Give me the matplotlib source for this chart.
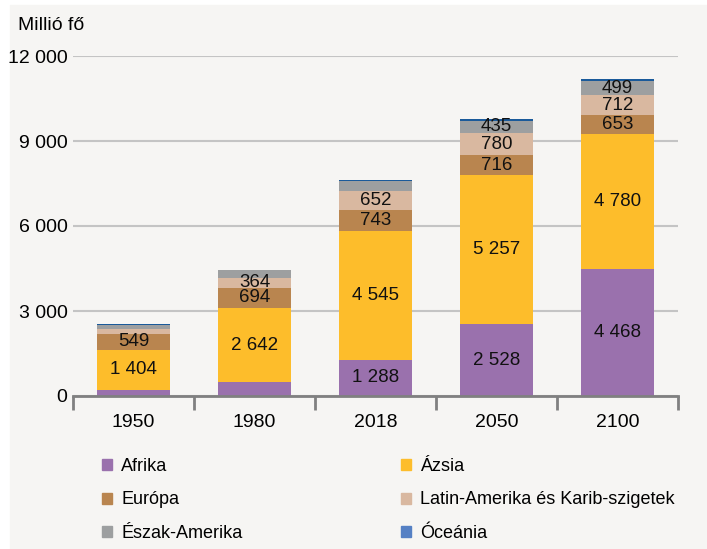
import matplotlib.pyplot as plt
from matplotlib.patches import Rectangle, Patch

years = ["1950", "1980", "2018", "2050", "2100"]
regions = ["Afrika", "Ázsia", "Európa", "Latin-Amerika és Karib-szigetek",
           "Észak-Amerika", "Óceánia"]
afrika = [228, 477, 1288, 2528, 4468]
azsia = [1404, 2642, 4545, 5257, 4780]
europa = [549, 694, 743, 716, 653]
latin = [169, 364, 652, 780, 712]
eszak = [173, 255, 364, 435, 499]
oceania = [13, 23, 41, 57, 75]
series = [afrika, azsia, europa, latin, eszak, oceania]
# which segments carry a value label
show = [
    [False, False, True, True, True],
    [True, True, True, True, True],
    [True, True, True, True, True],
    [False, True, True, True, True],
    [False, False, False, True, True],
    [False, False, False, False, False],
]
colors = ["#9A71AD", "#FDBD2B", "#B9854F", "#D9B8A0", "#9D9FA0", "#1A5A9A"]
legend_colors = ["#9A71AD", "#FDBD2B", "#B9854F", "#D9B8A0", "#9D9FA0", "#5580C4"]

plt.rcParams["font.family"] = ["Liberation Sans", "DejaVu Sans"]

fig = plt.figure(figsize=(7.07, 5.49), dpi=100, facecolor="white")
fig.patches.append(Rectangle((10 / 707, 0), 1, 1 - 5 / 549, transform=fig.transFigure,
                             color="#F6F5F3", zorder=-10))
ax = fig.add_axes([73 / 707, 153 / 549, 605 / 707, 340 / 549])
ax.set_facecolor("none")

x = range(len(years))
bottom = [0] * len(years)
for vals, col, lab in zip(series, colors, show):
    ax.bar(x, vals, 0.61, bottom=bottom, color=col, zorder=3)
    for i, v in enumerate(vals):
        if lab[i]:
            txt = f"{v:,}".replace(",", " ")
            ax.text(i, bottom[i] + v / 2, txt, ha="center", va="center",
                    fontsize=13.5, color="#111111", zorder=4)
    bottom = [b + v for b, v in zip(bottom, vals)]

ax.set_xlim(-0.5, 4.5)
ax.set_ylim(0, 12000)
ax.set_yticks([0, 3000, 6000, 9000, 12000])
ax.set_yticklabels(["0", "3 000", "6 000", "9 000", "12 000"])
ax.set_xticks(list(x))
ax.set_xticklabels(years)
ax.set_xticks([-0.5, 0.5, 1.5, 2.5, 3.5, 4.5], minor=True)
ax.tick_params(axis="x", which="major", length=0, pad=13, labelsize=14)
ax.tick_params(axis="x", which="minor", length=10, width=2, color="#808080")
ax.tick_params(axis="y", length=0, pad=4, labelsize=14)
ax.grid(axis="y", color="#C4C4C4", linewidth=1.5, zorder=0)
for s in ["left", "right", "top"]:
    ax.spines[s].set_visible(False)
ax.spines["bottom"].set_color("#808080")
ax.spines["bottom"].set_linewidth(2)
ax.spines["bottom"].set_zorder(5)

fig.text(18 / 707, 1 - 25 / 549, "Millió fő", fontsize=14, va="center")

handles = [Patch(color=c, label=l) for c, l in zip(legend_colors, regions)]
order = [0, 2, 4, 1, 3, 5]
fig.legend([handles[i] for i in order], [regions[i] for i in order],
           ncol=2, loc="upper left", bbox_to_anchor=(86 / 707, 1 - 442 / 549),
           frameon=False, fontsize=13, handlelength=0.55, handleheight=0.55,
           handletextpad=0.5, labelspacing=0.9, columnspacing=8.8)

fig.savefig("out.png", dpi=100)
